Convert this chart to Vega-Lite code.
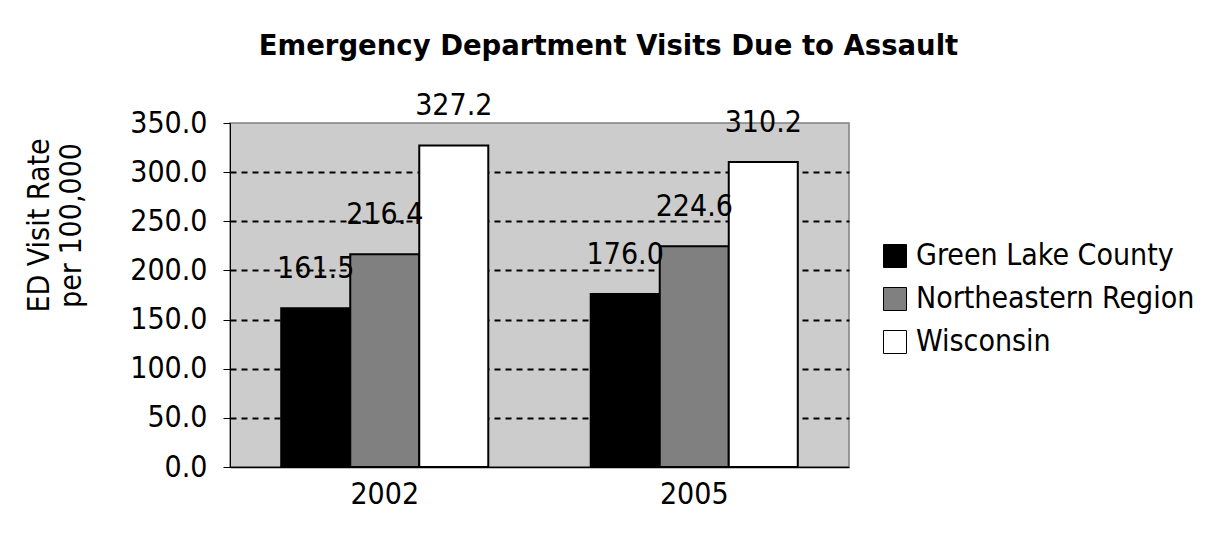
{
  "$schema": "https://vega.github.io/schema/vega-lite/v6.json",
  "autosize": {"type": "none"},
  "padding": {"left": 230, "top": 123, "right": 368, "bottom": 88},
  "width": 619,
  "height": 344,
  "background": "white",
  "title": {
    "text": "Emergency Department Visits Due to Assault",
    "font": "DejaVu Sans",
    "fontWeight": "bold",
    "fontSize": 27.5,
    "color": "black",
    "anchor": "middle",
    "frame": "group",
    "dx": 69,
    "offset": 31
  },
  "config": {
    "font": "DejaVu Sans Condensed",
    "view": {"fill": "#cccccc", "stroke": "#808080", "strokeWidth": 1.5}
  },
  "data": {
    "values": [
      {"year": "2002", "series": "Green Lake County", "rate": 161.5},
      {"year": "2002", "series": "Northeastern Region", "rate": 216.4},
      {"year": "2002", "series": "Wisconsin", "rate": 327.2},
      {"year": "2005", "series": "Green Lake County", "rate": 176.0},
      {"year": "2005", "series": "Northeastern Region", "rate": 224.6},
      {"year": "2005", "series": "Wisconsin", "rate": 310.2}
    ]
  },
  "encoding": {
    "x": {
      "field": "year",
      "type": "nominal",
      "scale": {"paddingInner": 0.331, "paddingOuter": 0.1655},
      "axis": {
        "title": null,
        "labelAngle": 0,
        "labelFontSize": 30,
        "labelColor": "black",
        "labelPadding": 12,
        "ticks": false,
        "domainColor": "black",
        "domainWidth": 1.5
      }
    },
    "xOffset": {"field": "series", "type": "nominal", "scale": {"paddingInner": 0, "paddingOuter": 0}},
    "y": {
      "field": "rate",
      "type": "quantitative",
      "scale": {"domain": [0, 350], "nice": false},
      "axis": {
        "title": ["ED Visit Rate", "per 100,000"],
        "titleFontSize": 30,
        "titleFontWeight": "normal",
        "titleColor": "black",
        "titleAngle": -90,
        "titleAlign": "center",
        "titleBaseline": "top",
        "titleX": -206,
        "titleY": 102,
        "titleLineHeight": 32,
        "values": [0, 50, 100, 150, 200, 250, 300, 350],
        "format": ".1f",
        "labelFontSize": 30,
        "labelColor": "black",
        "labelPadding": 16,
        "tickSize": 7,
        "tickColor": "black",
        "domainColor": "black",
        "domainWidth": 1,
        "grid": true,
        "gridDash": [6, 5],
        "gridWidth": 2,
        "gridColor": {"condition": {"test": "datum.value == 0 || datum.value == 350", "value": "transparent"}, "value": "black"}
      }
    }
  },
  "layer": [
    {
      "mark": {"type": "bar", "stroke": "black", "strokeWidth": 2},
      "encoding": {
        "fill": {
          "field": "series",
          "type": "nominal",
          "scale": {"domain": ["Green Lake County", "Northeastern Region", "Wisconsin"], "range": ["#000000", "#808080", "#ffffff"]},
          "legend": {
            "title": null,
            "orient": "none",
            "legendX": 650,
            "legendY": 118,
            "symbolType": "square",
            "symbolSize": 529,
            "symbolStrokeColor": "black",
            "symbolStrokeWidth": 1,
            "labelFontSize": 30,
            "labelColor": "black",
            "labelOffset": 6,
            "rowPadding": 13,
            "labelLimit": 400
          }
        }
      }
    },
    {
      "mark": {"type": "text", "fontSize": 30, "color": "black", "baseline": "alphabetic", "dy": -30},
      "encoding": {
        "text": {"field": "rate", "type": "quantitative", "format": ".1f"}
      }
    }
  ]
}
